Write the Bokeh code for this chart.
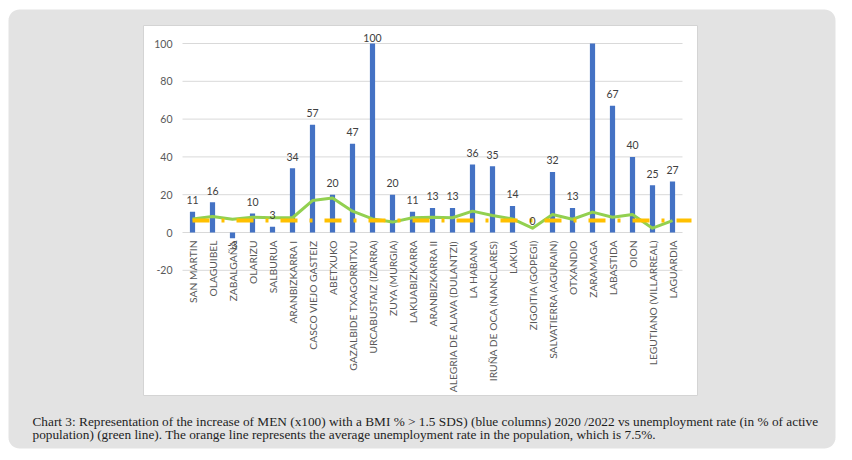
import numpy as np
from bokeh.plotting import figure
from bokeh.models import Range1d
from bokeh.core.properties import value
from bokeh.embed import file_html
from bokeh.resources import INLINE

# ---------------- data ----------------
categories = [
    "SAN MARTIN", "OLAGUIBEL", "ZABALGAÑA", "OLARIZU", "SALBURUA",
    "ARANBIZKARRA I", "CASCO VIEJO GASTEIZ", "ABETXUKO", "GAZALBIDE TXAGORRITXU",
    "URCABUSTAIZ (IZARRA)", "ZUYA (MURGIA)", "LAKUABIZKARRA", "ARANBIZKARRA II",
    "ALEGRIA DE ALAVA (DULANTZI)", "LA HABANA", "IRUÑA DE OCA (NANCLARES)", "LAKUA",
    "ZIGOITIA (GOPEGI)", "SALVATIERRA (AGURAIN)", "OTXANDIO", "ZARAMAGA",
    "LABASTIDA", "OION", "LEGUTIANO (VILLARREAL)", "LAGUARDIA",
]
men_bmi_increase = [11, 16, -3, 10, 3, 34, 57, 20, 47, 100, 20, 11, 13,
                    13, 36, 35, 14, 0, 32, 13, 100, 67, 40, 25, 27]
bar_labels = ["11", "16", "-3", "10", "3", "34", "57", "20", "47", "100", "20", "11", "13",
              "13", "36", "35", "14", "0", "32", "13", "", "67", "40", "25", "27"]
unemployment_rate = [7.2, 8.5, 7.0, 8.1, 7.8, 7.8, 16.9, 18.2, 11.3, 7.2, 5.5, 7.8, 8.1,
                     7.8, 11.3, 9.0, 7.2, 2.3, 9.5, 7.0, 10.8, 8.1, 9.5, 2.3, 6.3]
average_unemployment = 6.3
y_ticks = [-20, 0, 20, 40, 60, 80, 100]
caption_lines = [
    "Chart 3: Representation of the increase of MEN (x100) with a BMI % > 1.5 SDS) (blue columns) 2020 /2022 vs unemployment rate (in % of active",
    "population) (green line). The orange line represents the average unemployment rate in the population, which is 7.5%.",
]

# ---------------- layout (screenshot pixels) ----------------
W, H = 844, 452
CAT0_X, CAT_STEP = 192.0, 20.0     # x of first category centre, px per category
ZERO_Y, PX_PER_UNIT = 232.0, 1.89  # y of value 0, px per value unit

p = figure(width=W, height=H,
           x_range=Range1d(0, W), y_range=Range1d(H, 0),
           output_backend="svg", toolbar_location=None,
           x_axis_location=None, y_axis_location=None, min_border=0)
p.grid.visible = False
p.outline_line_color = None
p.background_fill_color = "white"
p.border_fill_color = "white"

p.extra_x_ranges = {"ix": Range1d(-CAT0_X / CAT_STEP, (W - CAT0_X) / CAT_STEP)}
p.extra_y_ranges = {"val": Range1d((ZERO_Y - H) / PX_PER_UNIT, ZERO_Y / PX_PER_UNIT)}


def rounded_rect(x0, y0, x1, y1, r, n=10):
    xs, ys = [], []
    corners = [(x1 - r, y0 + r, -90, 0), (x1 - r, y1 - r, 0, 90),
               (x0 + r, y1 - r, 90, 180), (x0 + r, y0 + r, 180, 270)]
    for cx, cy, a0, a1 in corners:
        t = np.radians(np.linspace(a0, a1, n))
        xs.extend(cx + r * np.cos(t))
        ys.extend(cy + r * np.sin(t))
    return xs, ys


# grey panel
px, py = rounded_rect(8, 9, 835, 448, 11)
p.patch(px, py, fill_color="#e3e3e3", line_color=None)

# white chart box
p.quad(left=143, right=697, top=25, bottom=395, fill_color="white",
       line_color="#d4d4d4", line_width=1)

idx = np.arange(len(categories))
vals = np.array(men_bmi_increase, dtype=float)

# gridlines
p.segment(x0=-0.5, x1=len(categories) - 0.5, y0=y_ticks, y1=y_ticks,
          x_range_name="ix", y_range_name="val", line_color="#d9d9d9", line_width=1)

# bars
p.vbar(x=idx, top=vals, bottom=0, width=0.26, fill_color="#4472C4", line_color=None,
       x_range_name="ix", y_range_name="val")

# unemployment line
p.line(idx, unemployment_rate, line_color="#92D050", line_width=3, line_join="round",
       x_range_name="ix", y_range_name="val")

# average unemployment dashed line
p.line([0, len(categories) - 0.05], [average_unemployment, average_unemployment],
       line_color="#FFC000", line_width=4, line_dash="17 12 3 12",
       x_range_name="ix", y_range_name="val")

FONT = value("Lato")

# value labels
pos = vals >= 0
p.text(x=idx[pos], y=np.minimum(vals[pos] + 4, 101),
       text=[t for t, k in zip(bar_labels, pos) if k],
       text_align="center", text_baseline="bottom", text_font=FONT,
       text_font_size="10.5px", text_color="#404040",
       x_range_name="ix", y_range_name="val")
neg = ~pos
p.text(x=idx[neg], y=vals[neg] - 1.5,
       text=[t for t, k in zip(bar_labels, neg) if k],
       text_align="center", text_baseline="top", text_font=FONT,
       text_font_size="10.5px", text_color="#404040",
       x_range_name="ix", y_range_name="val")

# y tick labels
p.text(x=-1.0, y=y_ticks, text=[str(t) for t in y_ticks],
       text_align="right", text_baseline="middle", text_font=FONT,
       text_font_size="10.5px", text_color="#595959",
       x_range_name="ix", y_range_name="val")

# category labels (vertical)
p.text(x=idx, y=[-4.2] * len(categories), text=categories, angle=np.pi / 2,
       text_align="right", text_baseline="middle", text_font=FONT,
       text_font_size="10.3px", text_color="#595959",
       x_range_name="ix", y_range_name="val")

# caption
p.text(x=[32, 32], y=[421, 434], text=caption_lines,
       text_align="left", text_baseline="alphabetic",
       text_font=value("Liberation Serif"), text_font_size="13.3px",
       text_color="#1e1e1e")

open("out.html", "w").write(file_html(p, INLINE))
